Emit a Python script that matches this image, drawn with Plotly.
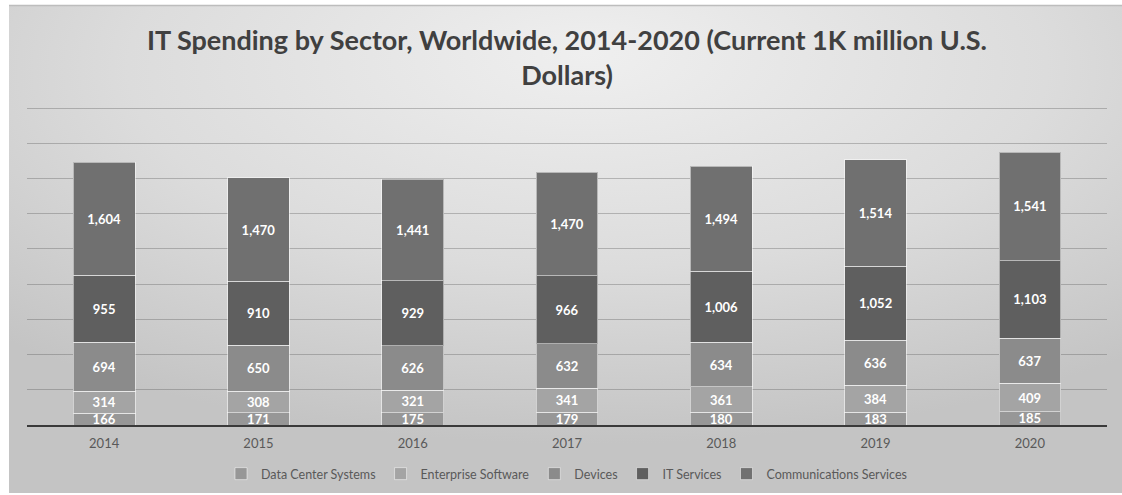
import base64
import plotly.graph_objects as go

# IT spending by sector, current 1K million U.S. dollars
years = ["2014", "2015", "2016", "2017", "2018", "2019", "2020"]
data_center_systems = [166, 171, 175, 179, 180, 183, 185]
enterprise_software = [314, 308, 321, 341, 361, 384, 409]
devices = [694, 650, 626, 632, 634, 636, 637]
it_services = [955, 910, 929, 966, 1006, 1052, 1103]
communications_services = [1604, 1470, 1441, 1470, 1494, 1514, 1541]

series = [
    ("Data Center Systems", data_center_systems, "#979797"),
    ("Enterprise Software", enterprise_software, "#a4a4a4"),
    ("Devices", devices, "#8b8b8b"),
    ("IT Services", it_services, "#5f5f5f"),
    ("Communications Services", communications_services, "#707070"),
]

W, H = 1122, 495
# value axis: 0 sits on y=425 px, 4500 on y=108 px; the range tops out at 4600
Y_MAX = 4600
ML, MR, MB = 27, 15, 70
MT = round(425 - (425 - 108) * Y_MAX / 4500)

fig = go.Figure()
for name, vals, color in series:
    fig.add_trace(go.Bar(
        name=name,
        x=years,
        y=vals,
        marker=dict(color=color, line=dict(color="rgba(255,255,255,0.5)", width=1)),
        texttemplate="%{y:,}",
        textposition="inside",
        insidetextanchor="middle",
        constraintext="none",
        textfont=dict(family="Lato", size=13, color="white", weight="bold"),
        cliponaxis=False,
    ))

# soft radial backdrop behind the chart frame
svg = f"""<svg xmlns='http://www.w3.org/2000/svg' width='{W}' height='{H}'>
<defs><radialGradient id='g' cx='0.52' cy='0.15' r='0.75' fx='0.52' fy='0.1'>
<stop offset='0' stop-color='#efefef'/><stop offset='0.55' stop-color='#dcdcdc'/>
<stop offset='1' stop-color='#c4c4c4'/></radialGradient></defs>
<rect x='0' y='0' width='{W}' height='{H}' fill='white'/>
<rect x='9' y='5' width='{W - 9}' height='{H - 7}' fill='url(#g)'/>
<line x1='9' y1='5.5' x2='{W}' y2='5.5' stroke='#bdbdbd' stroke-width='1.5'/>
</svg>"""
src = "data:image/svg+xml;base64," + base64.b64encode(svg.encode()).decode()

pw = W - ML - MR
ph = H - MT - MB
fig.add_layout_image(dict(
    source=src, xref="paper", yref="paper",
    x=-ML / pw, y=1 + MT / ph,
    sizex=W / pw, sizey=H / ph,
    xanchor="left", yanchor="top", sizing="stretch", layer="below",
))

fig.update_layout(
    width=W, height=H,
    barmode="stack",
    bargap=0.6,
    margin=dict(l=ML, r=MR, t=MT, b=MB, autoexpand=False),
    paper_bgcolor="white",
    plot_bgcolor="rgba(0,0,0,0)",
    font=dict(family="Lato", color="#595959"),
    title=dict(
        text="IT Spending by Sector, Worldwide, 2014-2020 (Current 1K million U.S.<br>Dollars)",
        x=(ML + pw / 2) / W, xanchor="center",
        y=1 - 50 / H, yanchor="top",
        font=dict(family="Lato", size=27, color="#404040", weight="bold"),
    ),
    xaxis=dict(
        showgrid=False, showline=True, linecolor="#3a3a3a", linewidth=2,
        ticks="", ticklabelstandoff=5, tickfont=dict(size=13, color="#595959"),
        automargin=False,
    ),
    yaxis=dict(
        range=[0, Y_MAX], dtick=500, showticklabels=False,
        showgrid=True, gridcolor="rgba(90,90,90,0.35)", gridwidth=1,
        zeroline=False, showline=False, automargin=False,
    ),
    legend=dict(
        orientation="h", x=0.5, xanchor="center",
        yref="container", y=1 - 474 / H, yanchor="middle",
        font=dict(size=12.5, color="#595959"),
        bgcolor="rgba(0,0,0,0)", traceorder="normal",
        itemwidth=30,
    ),
    showlegend=True,
)

fig.write_html("out.html")
